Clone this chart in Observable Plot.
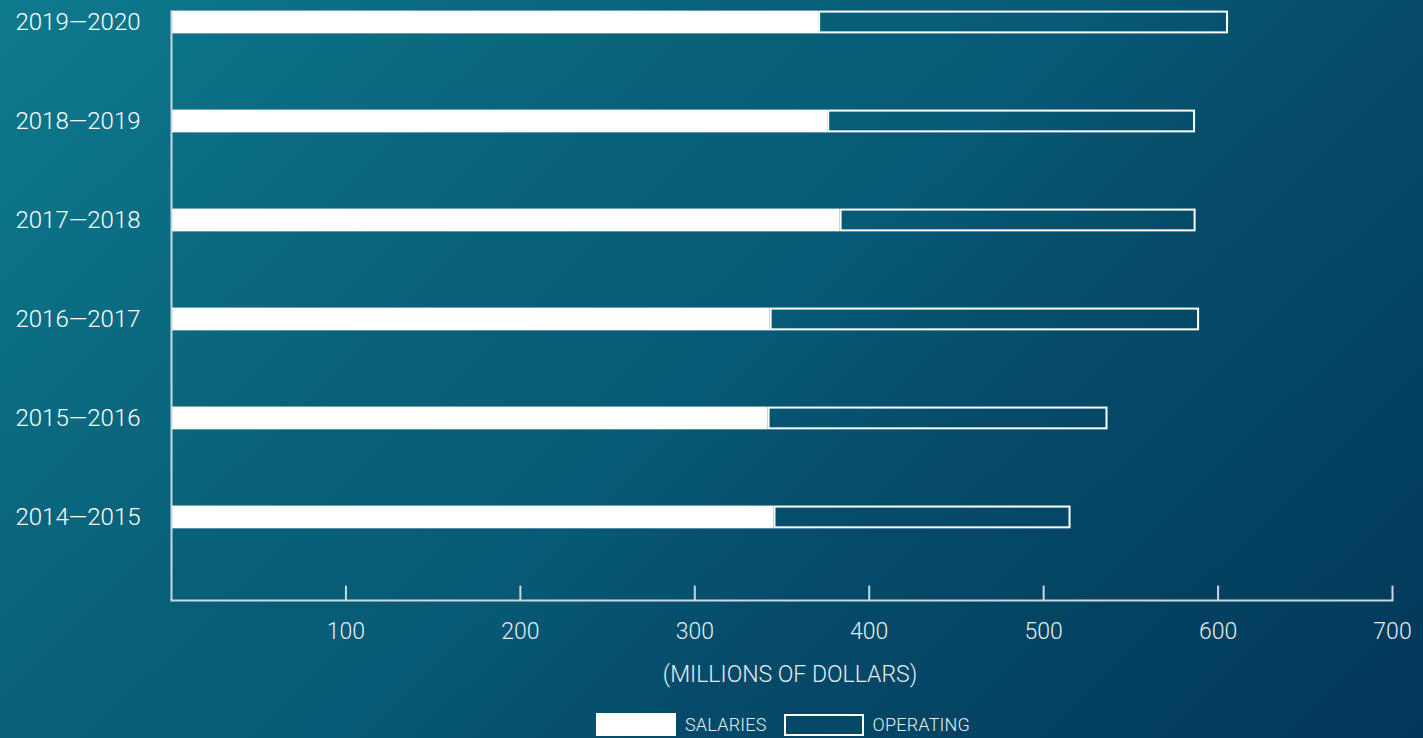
<!DOCTYPE html>
<html>
<head>
<meta charset="utf-8">
<script src="https://cdn.jsdelivr.net/npm/d3@7"></script>
<script src="https://cdn.jsdelivr.net/npm/@observablehq/plot@0.6"></script>
<style>
  html, body { margin: 0; padding: 0; }
  body {
    width: 1423px; height: 738px; overflow: hidden;
    background: linear-gradient(136deg, #0e7a8e 0%, #086078 35%, #075a77 50%, #054b69 65%, #03385a 100%);
    font-family: Roboto, sans-serif;
  }
  #wrap { position: relative; width: 1423px; height: 738px; }
  #chart svg { display: block; background: transparent; }
  #legend { position: absolute; left: 596px; top: 713px; height: 23px; display: flex; align-items: center; color: #e4edf1; font-size: 18px; font-weight: 300; letter-spacing: 0.2px; }
  #legend .sw { width: 80px; height: 23px; box-sizing: border-box; }
  #legend .sal { background: #ffffff; }
  #legend .op { border: 2px solid #ffffff; width: 80px; height: 22px; }
  #legend .lab { margin-left: 9px; margin-right: 17px; }
</style>
</head>
<body>
<div id="wrap">
  <div id="chart"></div>
  <div id="legend"></div>
</div>
<script>
const periods = ["2019—2020", "2018—2019", "2017—2018", "2016—2017", "2015—2016", "2014—2015"];
const salaries = [371.0, 376.2, 383.3, 343.2, 342.0, 345.4];
const operating = [235.0, 210.9, 204.1, 246.2, 194.9, 170.3];
const xTicks = [100, 200, 300, 400, 500, 600, 700];
const xLabel = "(MILLIONS OF DOLLARS)";
const legendLabels = ["SALARIES", "OPERATING"];

const rows = periods.map((p, i) => ({period: p, salaries: salaries[i], operating: operating[i]}));

const axisColor = "#c9d9e0";
const textColor = "#e4edf1";
const font = "Roboto, sans-serif";

const chart = Plot.plot({
  width: 1423,
  height: 705,
  marginLeft: 171,
  marginRight: 31,
  marginTop: 10.6,
  marginBottom: 105,
  style: {background: "transparent", fontFamily: font, color: textColor},
  x: {domain: [0, 700], axis: null},
  y: {domain: periods, axis: null, paddingInner: 0.77, paddingOuter: 0.362, align: 0, round: false},
  marks: [
    Plot.barX(rows, {y: "period", x1: () => 0, x2: "salaries", fill: "#ffffff"}),
    Plot.barX(rows, {y: "period", x1: "salaries", x2: d => d.salaries + d.operating,
      fill: "none", stroke: "#ffffff", strokeWidth: 2, inset: 1}),
    Plot.ruleX([0], {stroke: axisColor, strokeWidth: 2}),
    Plot.frame({anchor: "bottom", stroke: axisColor, strokeWidth: 2}),
    Plot.tickX(xTicks, {x: d => d, stroke: axisColor, strokeWidth: 2, insetTop: 575}),
    Plot.text(xTicks, {x: d => d, frameAnchor: "bottom", lineAnchor: "middle", dy: 31, text: d => String(d),
      fill: textColor, fontSize: 23, fontWeight: 300, fontFamily: font}),
    Plot.text([xLabel], {frameAnchor: "bottom", lineAnchor: "middle", dx: 8, dy: 74, text: d => d,
      fill: textColor, fontSize: 23, fontWeight: 300, fontFamily: font, letterSpacing: 0.4}),
    Plot.text(periods, {y: d => d, frameAnchor: "left", lineAnchor: "middle", dx: -31, textAnchor: "end", text: d => d,
      fill: "#ffffff", fontSize: 24, fontWeight: 300, fontFamily: font})
  ]
});
document.getElementById("chart").appendChild(chart);

const legend = document.getElementById("legend");
legend.innerHTML =
  `<div class="sw sal"></div><span class="lab">${legendLabels[0]}</span>` +
  `<div class="sw op"></div><span class="lab">${legendLabels[1]}</span>`;
</script>
</body>
</html>
